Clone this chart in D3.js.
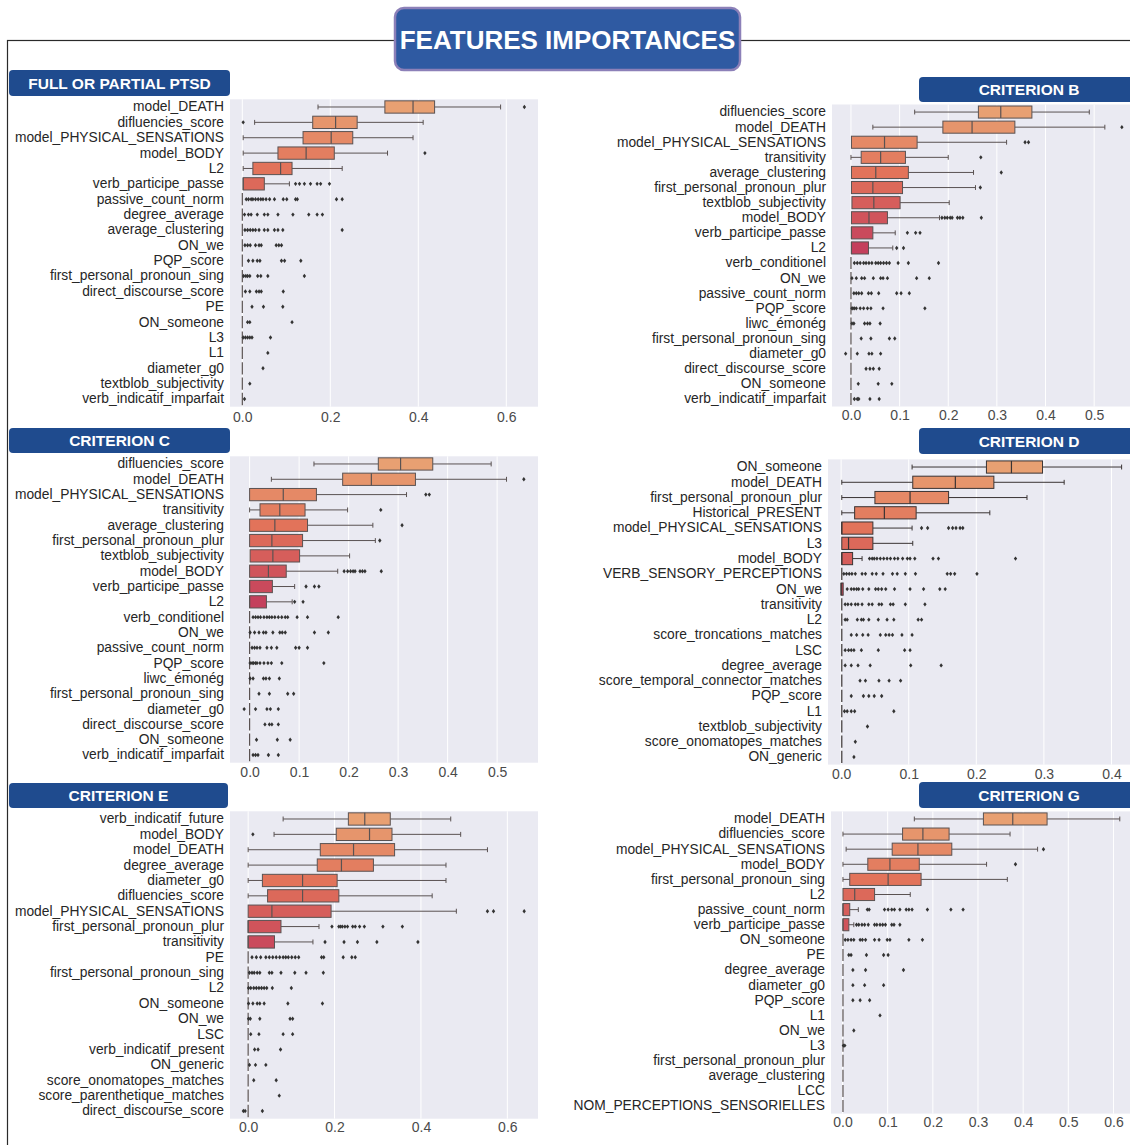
<!DOCTYPE html>
<html><head><meta charset="utf-8">
<script src="https://cdn.jsdelivr.net/npm/d3@7"></script>
<style>
html,body{margin:0;padding:0;background:#fff;}
svg{display:block;}
text{font-family:"Liberation Sans", Arial, sans-serif;}
</style></head><body>
<svg id="chart" width="1130" height="1145"></svg>
<script>
// ---------------- DATA ----------------
const mainTitle = "FEATURES IMPORTANCES";
const panelTitles = ["FULL OR PARTIAL PTSD", "CRITERION B", "CRITERION C", "CRITERION D", "CRITERION E", "CRITERION G"];

// stats rows: [whisker low, q1, median, q3, whisker high]
const ptsdFeatures = ["model_DEATH","difluencies_score","model_PHYSICAL_SENSATIONS","model_BODY","L2","verb_participe_passe","passive_count_norm","degree_average","average_clustering","ON_we","PQP_score","first_personal_pronoun_sing","direct_discourse_score","PE","ON_someone","L3","L1","diameter_g0","textblob_subjectivity","verb_indicatif_imparfait"];
const ptsdStats = [[0.172,0.324,0.388,0.437,0.587],[0.028,0.160,0.212,0.261,0.411],[0.002,0.138,0.202,0.251,0.388],[0.002,0.081,0.145,0.209,0.330],[0.002,0.024,0.087,0.113,0.227],[0.002,0.002,0.002,0.050,0.107],[0,0,0,0,0],[0,0,0,0,0],[0,0,0,0,0],[0,0,0,0,0],[0,0,0,0,0],[0,0,0,0,0],[0,0,0,0,0],[0,0,0,0,0],[0,0,0,0,0],[0,0,0,0,0],[0,0,0,0,0],[0,0,0,0,0],[0,0,0,0,0],[0,0,0,0,0]];
const ptsdOutliers = [[0.641],[0.002],[],[0.415],[],[0.121,0.130,0.141,0.155,0.170,0.178,0.198],[0.009,0.014,0.020,0.024,0.030,0.036,0.042,0.047,0.054,0.062,0.073,0.093,0.101,0.121,0.125,0.214,0.227],[0.005,0.014,0.020,0.034,0.050,0.058,0.081,0.115,0.151,0.170,0.182],[0.006,0.012,0.018,0.024,0.030,0.038,0.050,0.058,0.073,0.081,0.092,0.227],[0.006,0.012,0.018,0.030,0.038,0.043,0.077,0.083,0.089],[0.014,0.024,0.034,0.040,0.089,0.096,0.133],[0.003,0.008,0.012,0.017,0.035,0.042,0.058,0.141],[0.007,0.017,0.032,0.038,0.043,0.093],[0.022,0.048,0.092],[0.012,0.017,0.113],[0.002,0.007,0.012,0.017,0.022,0.064],[0.058],[0.047],[0.017],[0.005]];
const ptsdTicks = [0, 0.2, 0.4, 0.6];

const bFeatures = ["difluencies_score","model_DEATH","model_PHYSICAL_SENSATIONS","transitivity","average_clustering","first_personal_pronoun_plur","textblob_subjectivity","model_BODY","verb_participe_passe","L2","verb_conditionel","ON_we","passive_count_norm","PQP_score","liwc_émonég","first_personal_pronoun_sing","diameter_g0","direct_discourse_score","ON_someone","verb_indicatif_imparfait"];
const bStats = [[0.131,0.262,0.308,0.372,0.490],[0.045,0.189,0.249,0.337,0.522],[0.001,0.001,0.069,0.136,0.320],[0.000,0.021,0.061,0.112,0.200],[0.001,0.001,0.051,0.118,0.252],[0.001,0.001,0.045,0.106,0.256],[0.002,0.002,0.047,0.101,0.202],[0.001,0.001,0.037,0.075,0.182],[0.001,0.001,0.001,0.045,0.091],[0.001,0.001,0.001,0.036,0.086],[0,0,0,0,0],[0,0,0,0,0],[0,0,0,0,0],[0,0,0,0,0],[0,0,0,0,0],[0,0,0,0,0],[0,0,0,0,0],[0,0,0,0,0],[0,0,0,0,0],[0,0,0,0,0]];
const bOutliers = [[],[0.557],[0.358,0.365],[0.267],[0.309],[0.266],[],[0.187,0.193,0.198,0.204,0.208,0.219,0.224,0.230,0.268],[0.116,0.133,0.142],[0.094,0.108],[0.007,0.013,0.019,0.026,0.031,0.037,0.043,0.051,0.056,0.061,0.067,0.073,0.079,0.097,0.118,0.180],[0.002,0.011,0.022,0.028,0.046,0.061,0.066,0.075,0.135,0.161],[0.006,0.011,0.016,0.022,0.036,0.042,0.057,0.094,0.103,0.120],[0.002,0.004,0.007,0.011,0.019,0.026,0.034,0.041,0.066,0.152],[0.002,0.006,0.028,0.034,0.039,0.060],[0.021,0.041,0.079,0.090],[-0.011,0.013,0.037,0.043,0.061],[0.031,0.039,0.046,0.058],[0.015,0.056,0.084],[0.007,0.013,0.016,0.039,0.058]];
const bTicks = [0, 0.1, 0.2, 0.3, 0.4, 0.5];

const cFeatures = ["difluencies_score","model_DEATH","model_PHYSICAL_SENSATIONS","transitivity","average_clustering","first_personal_pronoun_plur","textblob_subjectivity","model_BODY","verb_participe_passe","L2","verb_conditionel","ON_we","passive_count_norm","PQP_score","liwc_émonég","first_personal_pronoun_sing","diameter_g0","direct_discourse_score","ON_someone","verb_indicatif_imparfait"];
const cStats = [[0.130,0.260,0.305,0.370,0.488],[0.044,0.188,0.246,0.335,0.519],[0,0,0.068,0.135,0.317],[0,0.021,0.061,0.112,0.198],[0,0,0.051,0.117,0.249],[0,0,0.045,0.107,0.254],[0.001,0.001,0.047,0.101,0.202],[0,0,0.038,0.074,0.178],[0,0,0,0.046,0.091],[0,0,0,0.034,0.086],[0,0,0,0,0],[0,0,0,0,0],[0,0,0,0,0],[0,0,0,0,0],[0,0,0,0,0],[0,0,0,0,0],[0,0,0,0,0],[0,0,0,0,0],[0,0,0,0,0],[0,0,0,0,0]];
const cOutliers = [[],[0.554],[0.356,0.363],[0.265],[0.308],[0.263],[],[0.191,0.198,0.204,0.209,0.213,0.223,0.228,0.233,0.266],[0.114,0.131,0.140],[0.091,0.108],[0.007,0.012,0.017,0.022,0.029,0.035,0.040,0.045,0.051,0.058,0.065,0.072,0.077,0.096,0.117,0.179],[0.001,0.010,0.019,0.028,0.033,0.047,0.061,0.066,0.072,0.131,0.159],[0.005,0.010,0.015,0.021,0.035,0.044,0.055,0.093,0.100,0.117],[0.001,0.005,0.008,0.012,0.015,0.021,0.029,0.037,0.044,0.065,0.150],[0.001,0.007,0.028,0.033,0.040,0.060],[0.019,0.040,0.077,0.089],[-0.011,0.012,0.035,0.042,0.058],[0.031,0.040,0.045,0.058],[0.014,0.056,0.082],[0.007,0.012,0.017,0.038,0.058]];
const cTicks = [0, 0.1, 0.2, 0.3, 0.4, 0.5];

const dFeatures = ["ON_someone","model_DEATH","first_personal_pronoun_plur","Historical_PRESENT","model_PHYSICAL_SENSATIONS","L3","model_BODY","VERB_SENSORY_PERCEPTIONS","ON_we","transitivity","L2","score_troncations_matches","LSC","degree_average","score_temporal_connector_matches","PQP_score","L1","textblob_subjectivity","score_onomatopes_matches","ON_generic"];
const dStats = [[0.105,0.215,0.252,0.298,0.415],[0.001,0.106,0.169,0.226,0.330],[0.001,0.050,0.102,0.159,0.275],[0.001,0.020,0.064,0.111,0.220],[0.001,0.001,0.001,0.047,0.105],[0.001,0.001,0.011,0.047,0.106],[0.001,0.001,0.001,0.017,0.031],[0.001,0.001,0.001,0.001,0.001],[0,0,0,0.003,0.003],[0.001,0.001,0.001,0.001,0.001],[0.001,0.001,0.001,0.001,0.001],[0.001,0.001,0.001,0.001,0.001],[0.001,0.001,0.001,0.001,0.001],[0.001,0.001,0.001,0.001,0.001],[0.001,0.001,0.001,0.001,0.001],[0.001,0.001,0.001,0.001,0.001],[0.001,0.001,0.001,0.001,0.001],[0.001,0.001,0.001,0.001,0.001],[0.001,0.001,0.001,0.001,0.001],[0.001,0.001,0.001,0.001,0.001]];
const dOutliers = [[],[],[],[],[0.119,0.128,0.159,0.165,0.170,0.176,0.180],[],[0.042,0.046,0.049,0.053,0.058,0.063,0.068,0.073,0.079,0.084,0.091,0.098,0.102,0.109,0.136,0.144,0.258],[0.004,0.008,0.012,0.016,0.021,0.031,0.036,0.046,0.052,0.062,0.076,0.083,0.095,0.110,0.157,0.162,0.168,0.201],[0.009,0.015,0.019,0.023,0.026,0.032,0.041,0.051,0.055,0.060,0.066,0.079,0.102,0.122,0.146,0.154],[0.006,0.010,0.015,0.021,0.025,0.031,0.041,0.046,0.056,0.060,0.073,0.077,0.095,0.124],[0.006,0.009,0.024,0.030,0.033,0.041,0.055,0.068,0.078,0.114,0.119],[0.015,0.023,0.032,0.040,0.058,0.066,0.071,0.076,0.090,0.105],[0.006,0.011,0.015,0.019,0.030,0.055,0.094,0.102],[0.006,0.015,0.025,0.043,0.103,0.148],[0.028,0.036,0.056,0.071,0.088],[0.015,0.033,0.041,0.049,0.060],[0.005,0.009,0.015,0.020,0.078],[0.039],[0.021],[0.019]];
const dTicks = [0, 0.1, 0.2, 0.3, 0.4];

const eFeatures = ["verb_indicatif_future","model_BODY","model_DEATH","degree_average","diameter_g0","difluencies_score","model_PHYSICAL_SENSATIONS","first_personal_pronoun_plur","transitivity","PE","first_personal_pronoun_sing","L2","ON_someone","ON_we","LSC","verb_indicatif_present","ON_generic","score_onomatopes_matches","score_parenthetique_matches","direct_discourse_score"];
const eStats = [[0.081,0.232,0.270,0.329,0.469],[0.060,0.204,0.281,0.333,0.492],[0,0.167,0.244,0.339,0.554],[0,0.160,0.216,0.290,0.458],[0,0.033,0.126,0.206,0.458],[0,0.045,0.126,0.210,0.426],[0,0,0.055,0.192,0.482],[0,0,0,0.076,0.164],[0,0,0,0.061,0.150],[0,0,0,0,0],[0,0,0,0,0],[0,0,0,0,0],[0,0,0,0,0],[0,0,0,0,0],[0,0,0,0,0],[0,0,0,0,0],[0,0,0,0,0],[0,0,0,0,0],[0,0,0,0,0],[0,0,0,0,0]];
const eOutliers = [[],[0.011],[],[],[],[],[0.554,0.568,0.639],[0.194,0.210,0.214,0.218,0.224,0.230,0.242,0.248,0.258,0.269,0.312,0.357],[0.178,0.222,0.253,0.298,0.393],[0.009,0.019,0.029,0.041,0.049,0.057,0.065,0.073,0.081,0.087,0.093,0.101,0.109,0.117,0.170,0.175,0.220,0.240,0.248],[0.003,0.009,0.014,0.021,0.027,0.049,0.055,0.076,0.108,0.134,0.174],[0.001,0.006,0.013,0.019,0.025,0.031,0.037,0.043,0.056,0.100],[0.001,0.011,0.021,0.027,0.037,0.092,0.172],[0.001,0.005,0.027,0.097,0.103],[0.006,0.025,0.081,0.103],[0.015,0.023,0.075],[0.003,0.017,0.041],[0.013,0.065],[0.072],[-0.011,-0.007,0.033]];
const eTicks = [0, 0.2, 0.4, 0.6];

const gFeatures = ["model_DEATH","difluencies_score","model_PHYSICAL_SENSATIONS","model_BODY","first_personal_pronoun_sing","L2","passive_count_norm","verb_participe_passe","ON_someone","PE","degree_average","diameter_g0","PQP_score","L1","ON_we","L3","first_personal_pronoun_plur","average_clustering","LCC","NOM_PERCEPTIONS_SENSORIELLES"];
const gStats = [[0.159,0.312,0.377,0.453,0.614],[0.001,0.133,0.178,0.236,0.371],[0.008,0.110,0.167,0.242,0.432],[0.001,0.056,0.105,0.170,0.319],[0.001,0.016,0.101,0.174,0.365],[0.001,0.001,0.027,0.071,0.150],[0.001,0.001,0.001,0.016,0.035],[0.001,0.001,0.001,0.014,0.025],[0.001,0.001,0.001,0.001,0.001],[0.001,0.001,0.001,0.001,0.001],[0.001,0.001,0.001,0.001,0.001],[0.001,0.001,0.001,0.001,0.001],[0.001,0.001,0.001,0.001,0.001],[0.001,0.001,0.001,0.001,0.001],[0.001,0.001,0.001,0.001,0.001],[0.001,0.001,0.001,0.001,0.001],[0.001,0.001,0.001,0.001,0.001],[0.001,0.001,0.001,0.001,0.001],[0.001,0.001,0.001,0.001,0.001],[0.001,0.001,0.001,0.001,0.001]];
const gOutliers = [[],[],[0.445],[0.383],[],[],[0.055,0.059,0.093,0.101,0.109,0.115,0.127,0.141,0.147,0.154,0.188,0.240,0.267],[0.031,0.036,0.043,0.049,0.057,0.071,0.076,0.083,0.089,0.095,0.109,0.114,0.127],[0.006,0.012,0.019,0.025,0.039,0.044,0.051,0.071,0.081,0.099,0.105,0.147,0.177],[0.014,0.019,0.053,0.091,0.101],[0.023,0.051,0.135],[0.023,0.049,0.091],[0.023,0.039,0.060],[0.083],[0.025],[0.002,0.005],[],[],[],[]];
const gTicks = [0, 0.1, 0.2, 0.3, 0.4, 0.5, 0.6];

// ---------------- LAYOUT (positions & styles) ----------------
const layouts = [
  {hx:9,   hy:70,  hw:221, hh:26, px0:230, px1:538,  py0:99.3,  py1:406.7,  dom:[-0.028,0.672],  tickY:417,  stroke:"#5a5252"},
  {hx:919, hy:77,  hw:220, hh:25, px0:832, px1:1135, py0:104.5, py1:406.5,  dom:[-0.039,0.584],  tickY:415,  stroke:"#5a5252"},
  {hx:9,   hy:428, hw:221, hh:25, px0:230, px1:538,  py0:456.3, py1:762.7,  dom:[-0.0396,0.5826],tickY:772,  stroke:"#5a5252"},
  {hx:919, hy:428, hw:220, hh:26, px0:828, px1:1135, py0:459.4, py1:764.6,  dom:[-0.0194,0.4348],tickY:774,  stroke:"#3a3434"},
  {hx:9,   hy:783, hw:219, hh:25, px0:230, px1:538,  py0:811.3, py1:1118.7, dom:[-0.042,0.671],  tickY:1127, stroke:"#5a5252"},
  {hx:919, hy:782, hw:220, hh:26, px0:831, px1:1135, py0:811.4, py1:1113.6, dom:[-0.0255,0.6477],tickY:1122, stroke:"#5a5252"}
];
const panelData = [
  [ptsdFeatures, ptsdStats, ptsdOutliers, ptsdTicks],
  [bFeatures, bStats, bOutliers, bTicks],
  [cFeatures, cStats, cOutliers, cTicks],
  [dFeatures, dStats, dOutliers, dTicks],
  [eFeatures, eStats, eOutliers, eTicks],
  [gFeatures, gStats, gOutliers, gTicks]
];

const svg = d3.select("#chart");
const palette = d3.scaleLinear().domain([0,0.21,0.47,0.75,1])
  .range(["#e8a072","#e2735a","#c5405c","#93306e","#5e2a76"]).interpolate(d3.interpolateRgb);

// outer frame (bottom edge lies below the visible area)
svg.append("rect").attr("x",7.5).attr("y",40.5).attr("width",1140).attr("height",1120)
  .attr("fill","none").attr("stroke","#2a2a2a").attr("stroke-width",1.2);

function drawPanel(L, title, features, stats, outliers, ticks) {
  const g = svg.append("g");
  const x = d3.scaleLinear().domain(L.dom).range([L.px0, L.px1]);
  const y = d3.scaleBand().domain(features).range([L.py0, L.py1]).paddingInner(0.2).paddingOuter(0.1);
  const bw = y.bandwidth();
  g.append("rect").attr("x",L.px0).attr("y",L.py0).attr("width",L.px1-L.px0).attr("height",L.py1-L.py0).attr("fill","#eaeaf2");
  g.selectAll("line.grid").data(ticks).join("line").attr("class","grid")
    .attr("x1",d=>x(d)).attr("x2",d=>x(d)).attr("y1",L.py0).attr("y2",L.py1)
    .attr("stroke","#ffffff").attr("stroke-width",1);
  const n = features.length;
  const rows = features.map((f,i)=>({f, i, s:stats[i], o:outliers[i]}));
  const rg = g.selectAll("g.row").data(rows).join("g").attr("class","row");
  rg.each(function(d){
    const sel = d3.select(this);
    const yc = y(d.f) + bw/2;
    const [lo,q1,med,q3,hi] = d.s;
    if (lo < q1) {
      sel.append("line").attr("x1",x(lo)).attr("x2",x(q1)).attr("y1",yc).attr("y2",yc).attr("stroke",L.stroke).attr("stroke-width",1);
      sel.append("line").attr("x1",x(lo)).attr("x2",x(lo)).attr("y1",yc-bw*0.2).attr("y2",yc+bw*0.2).attr("stroke",L.stroke).attr("stroke-width",1);
    }
    if (hi > q3) {
      sel.append("line").attr("x1",x(q3)).attr("x2",x(hi)).attr("y1",yc).attr("y2",yc).attr("stroke",L.stroke).attr("stroke-width",1);
      sel.append("line").attr("x1",x(hi)).attr("x2",x(hi)).attr("y1",yc-bw*0.2).attr("y2",yc+bw*0.2).attr("stroke",L.stroke).attr("stroke-width",1);
    }
    sel.append("rect").attr("x",x(q1)).attr("y",y(d.f)).attr("width",Math.max(0,x(q3)-x(q1))).attr("height",bw)
      .attr("fill",palette(d.i/(n-1))).attr("stroke",L.stroke).attr("stroke-width",1);
    sel.append("line").attr("x1",x(med)).attr("x2",x(med)).attr("y1",y(d.f)).attr("y2",y(d.f)+bw).attr("stroke",L.stroke).attr("stroke-width",1.2);
    sel.selectAll("path.fl").data(d.o).join("path").attr("class","fl")
      .attr("d",v=>`M${x(v)},${yc-2.2}L${x(v)+1.7},${yc}L${x(v)},${yc+2.2}L${x(v)-1.7},${yc}Z`)
      .attr("fill","#333333");
  });
  const ya = g.append("g").attr("transform",`translate(${L.px0},0)`)
    .call(d3.axisLeft(y).tickSize(0).tickPadding(6));
  ya.select(".domain").remove();
  ya.selectAll("text").attr("font-size","13.8px").attr("fill","#262626").attr("font-family","'Liberation Sans', Arial, sans-serif");
  const xa = g.append("g").attr("transform",`translate(0,${L.py1})`)
    .call(d3.axisBottom(x).tickValues(ticks).tickFormat(d3.format(".1f")).tickSize(0).tickPadding(L.tickY - L.py1 - 5));
  xa.select(".domain").remove();
  xa.selectAll("text").attr("font-size","14px").attr("fill","#4a4a4a").attr("font-family","'Liberation Sans', Arial, sans-serif");
  g.append("rect").attr("x",L.hx).attr("y",L.hy).attr("width",L.hw).attr("height",L.hh).attr("rx",4)
    .attr("fill","#1f4b8e");
  g.append("text").attr("x",L.hx+L.hw/2).attr("y",L.hy+L.hh/2+5.5).attr("text-anchor","middle")
    .attr("fill","#ffffff").attr("font-weight","bold").attr("font-size","15.5px").text(title);
}

panelData.forEach((p,k)=>drawPanel(layouts[k], panelTitles[k], p[0], p[1], p[2], p[3]));

svg.append("rect").attr("x",395).attr("y",8).attr("width",345).attr("height",62).attr("rx",9)
  .attr("fill","#2f5aa2").attr("stroke","#8c80b8").attr("stroke-width",2.5);
svg.append("text").attr("x",567.5).attr("y",49).attr("text-anchor","middle").attr("fill","#ffffff")
  .attr("font-weight","bold").attr("font-size","26px").text(mainTitle);
</script></body></html>
